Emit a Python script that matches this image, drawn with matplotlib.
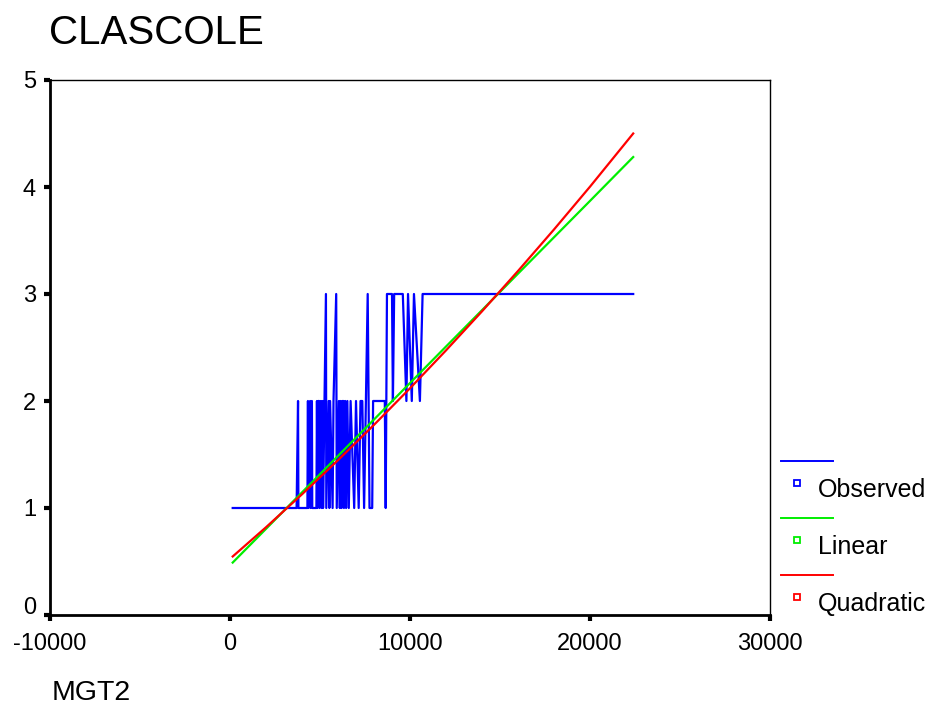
import matplotlib
matplotlib.use("Agg")
from matplotlib import pyplot as plt
from matplotlib.lines import Line2D
from matplotlib.transforms import ScaledTranslation

plt.rcParams['font.family'] = ['Liberation Sans', 'DejaVu Sans']
plt.rcParams['axes.unicode_minus'] = False

# observed CLASCOLE vs MGT2, sorted by MGT2
obs_x = [150, 3700, 3780, 3800, 4300, 4330, 4350, 4450, 4470, 4550, 4570, 4800,
         4830, 4860, 4900, 4950, 4980, 5050, 5100, 5150, 5170, 5330, 5350, 5480,
         5520, 5560, 5700, 5750, 5900, 5930, 6050, 6100, 6150, 6200, 6250, 6300,
         6330, 6400, 6450, 6520, 6600, 6700, 6900, 7000, 7150, 7250, 7350, 7450,
         7550, 7650, 7700, 7750, 7900, 7950, 8600, 8650, 8720, 9000, 9050, 9120,
         9600, 9800, 9890, 10100, 10220, 10550, 10700, 22400]
obs_y = [1, 1, 2, 1, 1, 2, 1, 2, 1, 2, 1, 1,
         2, 1, 2, 2, 1, 2, 1, 2, 1, 3, 1, 2,
         1, 2, 1, 2, 3, 1, 2, 1, 2, 1, 2, 2,
         1, 2, 1, 2, 1, 2, 1, 2, 1, 2, 2, 1,
         2, 3, 2, 1, 1, 2, 2, 1, 3, 3, 2, 3,
         3, 2, 3, 2, 3, 2, 3, 3]

# fitted curves
fit_x = [150, 2000, 4000, 6000, 8000, 10000, 12000, 14000, 16000, 18000, 20000, 22400]
linear_y = [0.49, 0.805, 1.146, 1.487, 1.827, 2.168, 2.509, 2.849, 3.19, 3.53, 3.87, 4.28]
quad_y = [0.547, 0.82, 1.128, 1.447, 1.777, 2.119, 2.473, 2.838, 3.215, 3.603, 4.003, 4.50]

fig = plt.figure(figsize=(9.27, 7.24), dpi=100)
ax = fig.add_axes([50 / 927, 109 / 724, 720 / 927, 535 / 724])

ax.plot(obs_x, obs_y, color='#0000ff', lw=1.6)
ax.plot(fit_x, linear_y, color='#00ee00', lw=1.6)
ax.plot(fit_x, quad_y, color='#ff0000', lw=1.6)

ax.set_xlim(-10000, 30000)
ax.set_ylim(0, 5)
ax.set_xticks([-10000, 0, 10000, 20000, 30000])
ax.set_yticks([0, 1, 2, 3, 4, 5])
ax.tick_params(direction='out', length=4, width=3, labelsize=17, pad=6)
ax.tick_params(axis='x', pad=9)
ax.spines['left'].set_linewidth(2)
ax.spines['bottom'].set_linewidth(2)
ax.spines['top'].set_linewidth(1)
ax.spines['right'].set_linewidth(1)

# the "0" label on the y axis sits a little higher
fig.canvas.draw()
lab0 = ax.get_yticklabels()[0]
lab0.set_transform(lab0.get_transform() + ScaledTranslation(0, 10 / 100, fig.dpi_scale_trans))

fig.text(49 / 927, 1 - 44 / 724, 'CLASCOLE', fontsize=29)
fig.text(52 / 927, 1 - 700 / 724, 'MGT2', fontsize=20.5)

# legend drawn by hand: line above, small square with label below
names = ['Observed', 'Linear', 'Quadratic']
cols = ['#0000ff', '#00ee00', '#ff0000']
line_py = [461, 518, 575]
mark_py = [483, 540, 597]
for nm, c, lp, mp in zip(names, cols, line_py, mark_py):
    ly = 1 - lp / 724
    my = 1 - mp / 724
    fig.add_artist(Line2D([781 / 927, 833 / 927], [ly, ly], color=c, lw=1.4))
    fig.add_artist(Line2D([797 / 927], [my], marker='s', ms=5, mfc='none',
                          mec=c, mew=1.3, ls='none'))
    fig.text(818 / 927, 1 - (mp + 7) / 724, nm, fontsize=18, va='center')

fig.savefig('out.png', dpi=100)
